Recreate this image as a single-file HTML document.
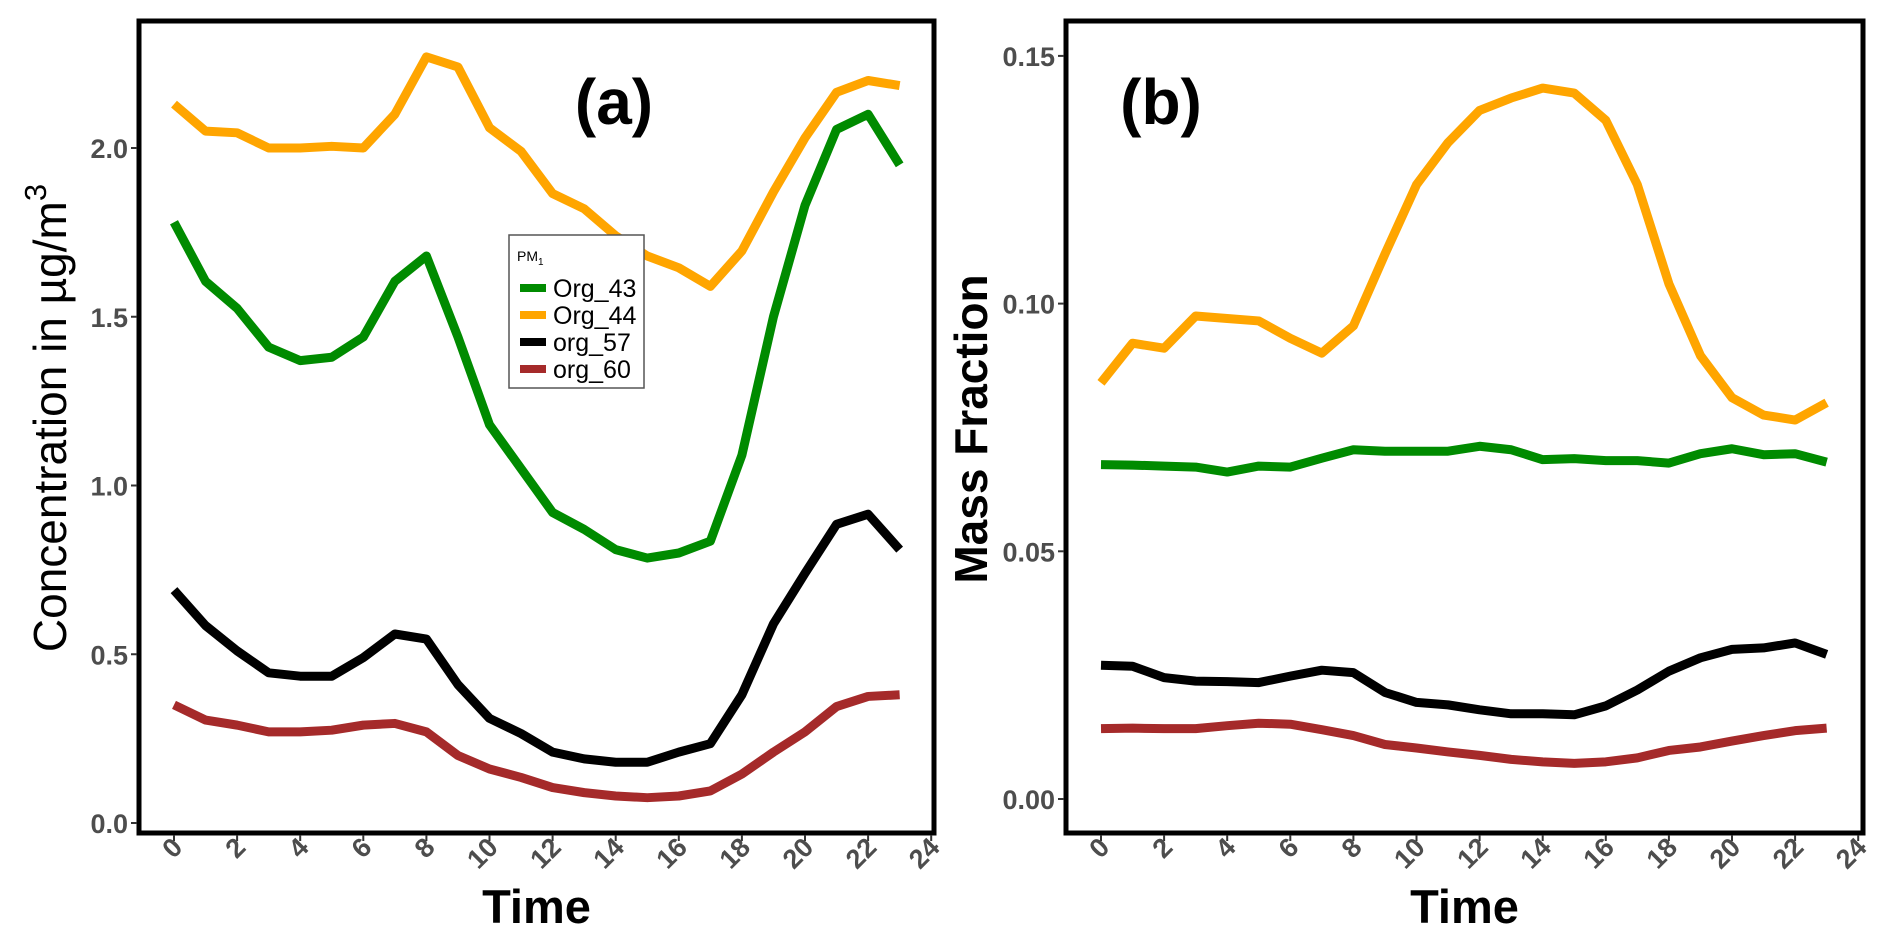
<!DOCTYPE html>
<html><head><meta charset="utf-8"><style>
body{margin:0;background:#fff;}
svg{display:block;font-family:"Liberation Sans",sans-serif;}
</style></head><body>
<svg id="chart" width="1892" height="927" viewBox="0 0 1892 927"></svg>
<script>
const hours = [0,1,2,3,4,5,6,7,8,9,10,11,12,13,14,15,16,17,18,19,20,21,22,23];
const xTicks = [0,2,4,6,8,10,12,14,16,18,20,22,24];
const seriesNames = ["Org_43","Org_44","org_57","org_60"];
const seriesColors = ["#008B00","#FFA500","#000000","#A52A2A"];
const aOrg43 = [1.78,1.605,1.525,1.41,1.37,1.38,1.44,1.605,1.68,1.44,1.18,1.05,0.92,0.87,0.81,0.785,0.8,0.835,1.09,1.5,1.83,2.055,2.1,1.95];
const aOrg44 = [2.13,2.05,2.045,2.0,2.0,2.005,2.0,2.1,2.27,2.24,2.06,1.99,1.865,1.82,1.74,1.68,1.645,1.59,1.695,1.87,2.03,2.165,2.2,2.185];
const aOrg57 = [0.69,0.585,0.51,0.445,0.435,0.435,0.49,0.56,0.545,0.41,0.31,0.265,0.21,0.19,0.18,0.18,0.21,0.235,0.38,0.59,0.74,0.885,0.915,0.81];
const aOrg60 = [0.35,0.305,0.29,0.27,0.27,0.275,0.29,0.295,0.27,0.2,0.16,0.135,0.105,0.09,0.08,0.075,0.08,0.095,0.145,0.21,0.27,0.345,0.375,0.38];
const bOrg43 = [0.0675,0.0674,0.0672,0.067,0.066,0.0672,0.067,0.0688,0.0705,0.0702,0.0702,0.0702,0.0712,0.0705,0.0685,0.0687,0.0683,0.0683,0.0678,0.0697,0.0707,0.0695,0.0697,0.068];
const bOrg44 = [0.084,0.092,0.091,0.0975,0.097,0.0965,0.093,0.090,0.0955,0.11,0.124,0.1325,0.139,0.1415,0.1435,0.1425,0.137,0.124,0.104,0.0895,0.081,0.0775,0.0765,0.080];
const bOrg57 = [0.027,0.0268,0.0245,0.0238,0.0237,0.0235,0.0248,0.026,0.0255,0.0215,0.0195,0.019,0.018,0.0172,0.0172,0.017,0.0188,0.022,0.0258,0.0285,0.0302,0.0305,0.0315,0.0292];
const bOrg60 = [0.0142,0.0143,0.0142,0.0142,0.0148,0.0153,0.0151,0.014,0.0128,0.011,0.0103,0.0095,0.0088,0.008,0.0075,0.0072,0.0075,0.0083,0.0098,0.0105,0.0117,0.0128,0.0138,0.0143];
const aYTicks = [0,0.5,1.0,1.5,2.0];
const aYLabels = ["0.0","0.5","1.0","1.5","2.0"];
const bYTicks = [0,0.05,0.10,0.15];
const bYLabels = ["0.00","0.05","0.10","0.15"];

const svg = document.getElementById('chart');
const NS = 'http://www.w3.org/2000/svg';
function mk(tag, attrs, parent){const e=document.createElementNS(NS,tag);for(const k in attrs)e.setAttribute(k,attrs[k]);(parent||svg).appendChild(e);return e;}

function panel(cfg){
  const g = mk('g',{});
  
  
  const xs = h => cfg.x0 + h*cfg.xStep;
  const ys = v => cfg.y0 - (v - cfg.v0)*cfg.yScale;
  cfg.series.forEach((vals,i)=>{
    const p = mk('polyline',{points: vals.map((v,j)=>xs(hours[j])+','+ys(v)).join(' '),fill:'none',stroke:seriesColors[i],'stroke-width':9,'stroke-linejoin':'round'},g);
    
    
  });
  const fr = mk('rect',{x:cfg.L,y:cfg.T,width:cfg.R-cfg.L,height:cfg.B-cfg.T,fill:'none',stroke:'#000','stroke-width':5},g);
  
  
  cfg.yTicks.forEach((v,i)=>{
    const y = ys(v);
    mk('line',{x1:cfg.L-8,x2:cfg.L-2,y1:y,y2:y,stroke:'#333','stroke-width':2},g);
    const t = mk('text',{x:cfg.L-11,y:y+10,'text-anchor':'end','font-size':27,'font-weight':'bold',fill:'#4d4d4d'},g);
    t.textContent = cfg.yLabels[i];
    
    
  });
  xTicks.forEach(h=>{
    const x = xs(h);
    mk('line',{x1:x,x2:x,y1:cfg.B+2,y2:cfg.B+8,stroke:'#333','stroke-width':2},g);
    const t = mk('text',{x:0,y:0,'text-anchor':'end','font-size':27,'font-weight':'bold',fill:'#4d4d4d',transform:`translate(${x+10},${cfg.B+16}) rotate(-45)`},g);
    t.textContent = h;
    
    
  });
  const xt = mk('text',{x:(cfg.L+cfg.R)/2,y:923,'text-anchor':'middle','font-size':47,'font-weight':'bold',fill:'#000'},g);
  xt.textContent='Time';
  
  
  const yt = mk('text',{x:0,y:0,'text-anchor':'middle','font-size':cfg.ytSize,'font-weight':cfg.ytWeight,fill:'#000',transform:`translate(${cfg.ytX},${cfg.ytY}) rotate(-90)`},g);
  yt.innerHTML = cfg.ytText;
  
  
  const lb = mk('text',{x:cfg.lblX,y:124,'text-anchor':'middle','font-size':64,'font-weight':'bold',fill:'#000'},g);
  lb.textContent = cfg.label;
  
  
}

panel({name:'panel-a',prefix:'a',L:139,T:21,R:934,B:833,x0:174,xStep:31.55,y0:823,v0:0,yScale:337.5,
  series:[aOrg43,aOrg44,aOrg57,aOrg60],yTicks:aYTicks,yLabels:aYLabels,
  ytText:'Concentration in µg/m<tspan dy="-20" font-size="31">3</tspan>',ytSize:46,ytWeight:'normal',ytX:66,ytY:418,
  label:'(a)',lblX:614});
panel({name:'panel-b',prefix:'b',L:1066,T:21,R:1863,B:833,x0:1101,xStep:31.55,y0:799,v0:0,yScale:4954,
  series:[bOrg43,bOrg44,bOrg57,bOrg60],yTicks:bYTicks,yLabels:bYLabels,
  ytText:'Mass Fraction',ytSize:46,ytWeight:'bold',ytX:987,ytY:429,
  label:'(b)',lblX:1161});

const lg = mk('g',{});


mk('rect',{x:509,y:235,width:135,height:153,fill:'#fff',stroke:'#555','stroke-width':1.5},lg);
const lt = mk('text',{x:517,y:261,'font-size':14,fill:'#000'},lg);
lt.innerHTML='PM<tspan dy="4" font-size="10">1</tspan>';


seriesNames.forEach((n,i)=>{
  const y = 288 + i*27;
  const e = mk('g',{},lg);
  
  
  mk('line',{x1:520,x2:546,y1:y,y2:y,stroke:seriesColors[i],'stroke-width':8},e);
  const t = mk('text',{x:553,y:y+9,'font-size':25,fill:'#000'},e);
  t.textContent = n;
});
</script>
</body></html>
